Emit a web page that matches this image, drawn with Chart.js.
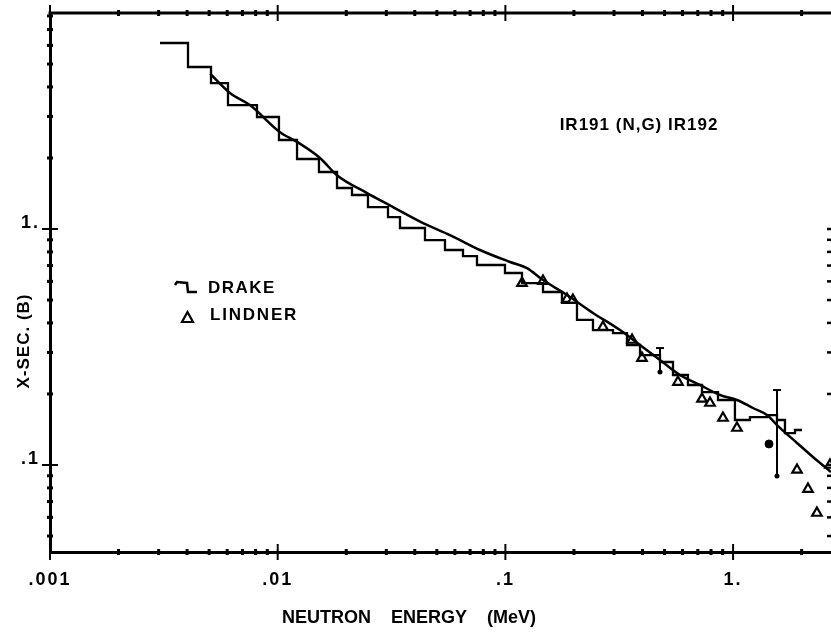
<!DOCTYPE html>
<html><head><meta charset="utf-8">
<script src="https://cdn.jsdelivr.net/npm/chart.js@4/dist/chart.umd.min.js"></script>
<style>html,body{margin:0;padding:0;background:#fff;overflow:hidden}canvas{display:block}</style>
</head><body>
<canvas id="c" width="831" height="632"></canvas>
<script>
// ---- axis ticks ----
const xMajorTicks = [0.001, 0.01, 0.1, 1];
const xTickLabels = ['.001', '.01', '.1', '1.'];
const yMajorTicks = [0.1, 1];
const yTickLabels = ['.1', '1.'];
const minorMultipliers = [2, 3, 4, 5, 6, 7, 8, 9];

// ---- DRAKE (histogram: bin edges in MeV, values in barns) ----
const drakeEdges = [0.003042, 0.004037, 0.005095, 0.006049, 0.008111, 0.01013, 0.01216, 0.01518, 0.01822,
  0.02120, 0.02492, 0.03051, 0.03444, 0.04435, 0.05429, 0.06514, 0.07503, 0.09959, 0.1183, 0.1463, 0.1772,
  0.2063, 0.2425, 0.2969, 0.3420, 0.3902, 0.4775, 0.5447, 0.6335, 0.7304, 0.8585, 1.019, 1.186, 1.409,
  1.559, 1.690, 1.870, 2.007];
const drakeValues = [6.14, 4.86, 4.155, 3.353, 2.983, 2.383, 1.980, 1.744, 1.492, 1.394, 1.239, 1.124, 1.010,
  0.898, 0.815, 0.768, 0.704, 0.651, 0.590, 0.541, 0.486, 0.412, 0.373, 0.3624, 0.3225, 0.2924, 0.2732,
  0.2406, 0.2183, 0.2038, 0.1886, 0.1551, 0.1597, 0.1628, 0.1551, 0.1366, 0.1407];

// ---- smooth evaluated curve ----
const curveEnergy = [0.00505, 0.00617, 0.00755, 0.0102, 0.01216, 0.01534, 0.0182, 0.0247, 0.0311, 0.0435,
  0.0571, 0.0773, 0.1048, 0.1244, 0.1463, 0.1865, 0.2425, 0.3187, 0.390, 0.4775, 0.5846, 0.7156, 0.876,
  1.040, 1.223, 1.409, 1.559, 1.909, 2.243, 2.691];
const curveXsec = [4.55, 3.77, 3.35, 2.58, 2.34, 2.00, 1.69, 1.42, 1.26, 1.06, 0.943, 0.815, 0.725, 0.683,
  0.608, 0.525, 0.441, 0.373, 0.3225, 0.2786, 0.2406, 0.2183, 0.198, 0.1886, 0.1744, 0.1629, 0.1477,
  0.1240, 0.1081, 0.0934];

// ---- LINDNER (triangles) ----
const lindnerEnergy = [0.1183, 0.1463, 0.1865, 0.198, 0.2683, 0.360, 0.398, 0.5728, 0.7304, 0.7917, 0.903,
  1.040, 1.909, 2.133, 2.335, 2.664];
const lindnerXsec = [0.590, 0.602, 0.505, 0.500, 0.3844, 0.3386, 0.284, 0.2247, 0.1905, 0.1831, 0.1582,
  0.1435, 0.0953, 0.0791, 0.0626, 0.100];

// ---- single filled point ----
const dotEnergy = [1.438];
const dotXsec = [0.1228];

// ---- error bars ----
const errEnergy = [0.4775, 1.559];
const errCenter = [0.2786, 0.1477];
const errLow = [0.2478, 0.0898];
const errHigh = [0.313, 0.2078];

const TITLE = 'IR191 (N,G) IR192';
const X_TITLE = 'NEUTRON    ENERGY    (MeV)';
const Y_TITLE = 'X-SEC. (B)';

// ---- build point lists ----
const drakePts = drakeValues.map((v, i) => ({x: drakeEdges[i], y: v}));
drakePts.push({x: drakeEdges[drakeEdges.length - 1], y: drakeValues[drakeValues.length - 1]});
const curvePts = curveEnergy.map((e, i) => ({x: e, y: curveXsec[i]}));
const lindnerPts = lindnerEnergy.map((e, i) => ({x: e, y: lindnerXsec[i]}));
const dotPts = dotEnergy.map((e, i) => ({x: e, y: dotXsec[i]}));
const errPts = errEnergy.map((e, i) => ({x: e, y: errCenter[i]}));

function isIn(v, list) { return list.findIndex(m => Math.abs(Math.log10(v / m)) < 1e-6); }
function logTicks(min, max) {
  const out = [];
  for (let e = -3; e <= 1; e++) {
    for (const m of [1, ...minorMultipliers]) {
      const v = m * Math.pow(10, e);
      if (v >= min * 0.9999 && v <= max * 1.0001) out.push({value: v});
    }
  }
  return out;
}
function noPad(s) { s.paddingTop = 0; s.paddingBottom = 0; s.paddingLeft = 0; s.paddingRight = 0; }

const FONT = "'Liberation Sans', Arial, sans-serif";

const decor = {
  id: 'decor',
  beforeDraw(chart) { chart.ctx.letterSpacing = '2px'; },
  beforeDatasetsDraw(chart) { chart.ctx.letterSpacing = '0px'; },
  afterDraw(chart) {
    const ctx = chart.ctx, a = chart.chartArea;
    const xs = chart.scales.x, ys = chart.scales.y;
    ctx.save();
    ctx.letterSpacing = '0px';
    ctx.strokeStyle = '#000'; ctx.fillStyle = '#000';
    // top frame line
    ctx.lineWidth = 3;
    ctx.beginPath(); ctx.moveTo(a.left - 1.5, a.top); ctx.lineTo(a.right, a.top); ctx.stroke();
    // x ticks (bottom + top)
    for (const t of xs.ticks) {
      const px = xs.getPixelForValue(t.value);
      const major = isIn(t.value, xMajorTicks) >= 0;
      const h = major ? 8 : 3;
      ctx.lineWidth = major ? 2 : 3;
      for (const yy of [a.bottom, a.top]) {
        ctx.beginPath(); ctx.moveTo(px, yy - h); ctx.lineTo(px, yy + h); ctx.stroke();
      }
    }
    // y ticks (left; right for lower part)
    for (const t of ys.ticks) {
      const py = ys.getPixelForValue(t.value);
      const major = isIn(t.value, yMajorTicks) >= 0;
      const w = major ? 8 : 3;
      ctx.lineWidth = major ? 2 : 3;
      ctx.beginPath(); ctx.moveTo(a.left - w, py); ctx.lineTo(a.left + w, py); ctx.stroke();
      if (t.value <= 1.0001) {
        ctx.lineWidth = 2.5;
        ctx.beginPath(); ctx.moveTo(a.right - 4, py); ctx.lineTo(a.right, py); ctx.stroke();
      }
    }
    // error bars
    ctx.lineWidth = 2;
    errEnergy.forEach((e, i) => {
      const px = xs.getPixelForValue(e);
      const y1 = ys.getPixelForValue(errHigh[i]);
      const y2 = ys.getPixelForValue(errLow[i]);
      ctx.beginPath(); ctx.moveTo(px, y1); ctx.lineTo(px, y2); ctx.stroke();
      ctx.beginPath(); ctx.moveTo(px - 4, y1); ctx.lineTo(px + 4, y1); ctx.stroke();
      ctx.beginPath(); ctx.arc(px, y2, 2.5, 0, Math.PI * 2); ctx.fill();
    });
    // texts
    const txt = (s, x, y, font, spacing, align, rot) => {
      ctx.save();
      ctx.font = font; ctx.letterSpacing = spacing; ctx.textAlign = align; ctx.textBaseline = 'alphabetic';
      if (rot) { ctx.translate(x, y); ctx.rotate(rot); ctx.fillText(s, 0, 0); }
      else ctx.fillText(s, x, y);
      ctx.restore();
    };
    txt(TITLE, 639, 130, 'bold 17px ' + FONT, '1px', 'center');
    txt(X_TITLE, 409, 623, 'bold 18px ' + FONT, '0px', 'center');
    txt(Y_TITLE, 29, 341, 'bold 17px ' + FONT, '1px', 'center', -Math.PI / 2);
    // legend
    const ds = chart.data.datasets;
    ctx.lineWidth = 2.5;
    ctx.beginPath();
    ctx.moveTo(175, 285); ctx.lineTo(177, 282); ctx.lineTo(187, 283); ctx.lineTo(188, 292); ctx.lineTo(197, 292);
    ctx.stroke();
    txt(ds[1].label, 208, 293, 'bold 17px ' + FONT, '1.5px', 'left');
    ctx.lineWidth = 2.2;
    ctx.fillStyle = '#fff';
    ctx.beginPath(); ctx.moveTo(187.5, 312); ctx.lineTo(193, 322); ctx.lineTo(182, 322); ctx.closePath();
    ctx.fill(); ctx.stroke();
    ctx.fillStyle = '#000';
    txt(ds[2].label, 210, 320, 'bold 17px ' + FONT, '1.8px', 'left');
    ctx.restore();
  }
};

new Chart(document.getElementById('c'), {
  type: 'scatter',
  data: {
    datasets: [
      {label: 'CURVE', data: curvePts, showLine: true, borderColor: '#000', borderWidth: 2.5,
        pointRadius: 0, cubicInterpolationMode: 'monotone', fill: false},
      {label: 'DRAKE', data: drakePts, showLine: true, stepped: 'before', borderColor: '#000',
        borderWidth: 2.3, pointRadius: 0, fill: false},
      {label: 'LINDNER', data: lindnerPts, showLine: false, pointStyle: 'triangle', pointRadius: 5.5,
        borderColor: '#000', backgroundColor: '#fff', borderWidth: 2.2},
      {label: 'POINT', data: dotPts, showLine: false, pointStyle: 'circle', pointRadius: 4,
        borderColor: '#000', backgroundColor: '#000', borderWidth: 1},
      {label: 'ERR', data: errPts, showLine: false, pointRadius: 0}
    ]
  },
  options: {
    responsive: false,
    devicePixelRatio: 1,
    animation: false,
    events: [],
    layout: {autoPadding: false, padding: {top: 13, right: 0, left: 0, bottom: 0}},
    plugins: {legend: {display: false}, tooltip: {enabled: false}, title: {display: false}},
    scales: {
      x: {
        type: 'logarithmic', position: 'bottom', min: 0.001, max: 2.692,
        afterFit(s) { s.height = 80; noPad(s); },
        afterBuildTicks(s) { s.ticks = logTicks(s.min, s.max); },
        grid: {display: false, drawTicks: false, tickLength: 0},
        border: {display: true, color: '#000', width: 3},
        ticks: {
          autoSkip: false, maxRotation: 0, padding: 17, color: '#000',
          font: {family: FONT, weight: 'bold', size: 18},
          callback(v) { const i = isIn(v, xMajorTicks); return i >= 0 ? xTickLabels[i] : ''; }
        }
      },
      y: {
        type: 'logarithmic', position: 'left', min: 0.04279, max: 8.23,
        afterFit(s) { s.width = 50; noPad(s); },
        afterBuildTicks(s) { s.ticks = logTicks(s.min, s.max); },
        grid: {display: false, drawTicks: false, tickLength: 0},
        border: {display: true, color: '#000', width: 3},
        ticks: {
          autoSkip: false, padding: 10, labelOffset: -6, color: '#000',
          font: {family: FONT, weight: 'bold', size: 18},
          callback(v) { const i = isIn(v, yMajorTicks); return i >= 0 ? yTickLabels[i] : ''; }
        }
      }
    }
  },
  plugins: [decor]
});
</script>
</body></html>
